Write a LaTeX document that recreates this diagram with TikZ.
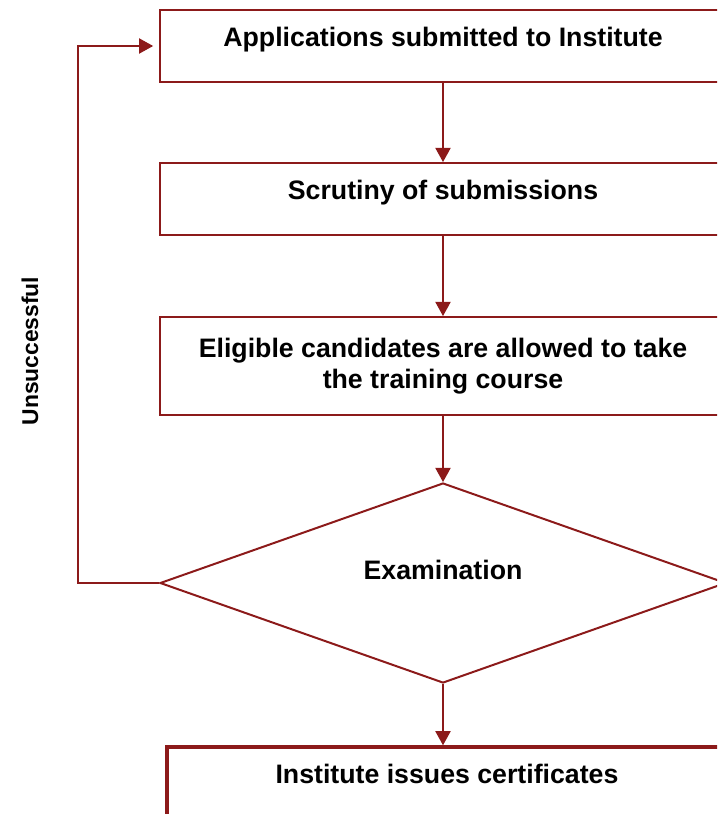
\documentclass[tikz,border=0pt]{standalone}
\usepackage{fontspec}
\setmainfont{Liberation Sans}
\usepackage{tikz}
\usetikzlibrary{arrows.meta,shapes.geometric}
\definecolor{darkred}{RGB}{140,26,26}

\begin{document}
\begin{tikzpicture}[x=0.03cm, y=-0.03cm,
    frame/.style={draw=darkred, line width=1.7pt, minimum width=16.98cm,
        minimum height=2.16cm, inner sep=0pt,
        font=\fontsize{22.8}{27}\selectfont\bfseries},
    box/.style={frame, text height=0.75em, text depth=0.63em},
    link/.style={draw=darkred, line width=1pt,
        -{Triangle[width=13pt,length=12pt]}}]
    \useasboundingbox (0,0) rectangle (717,814);
    \clip (0,0) rectangle (717,814);

    % Boxes
    \node[box] (apply) at (443,46) {Applications submitted to Institute};
    \node[box] (scrutiny) at (443,199) {Scrutiny of submissions};
    \node[frame, minimum height=2.94cm, align=center] (eligible) at (443,366)
        {Eligible candidates are allowed to take\\the training course};

    % Decision
    \node[diamond, draw=darkred, line width=1.7pt, minimum width=16.98cm,
        minimum height=6cm, inner sep=0pt, aspect=2.8,
        font=\fontsize{22.8}{27}\selectfont\bfseries,
        text height=0.75em, text depth=1.37em] (exam) at (443,583) {Examination};

    \node[box, line width=3pt, minimum width=16.8cm] (issue) at (447,783)
        {Institute issues certificates};

    % Flow
    \draw[link] (apply) -- (scrutiny);
    \draw[link] (scrutiny) -- (eligible);
    \draw[link] (eligible) -- (exam);
    \draw[link] (exam.south) -- (exam.south |- issue.north);

    % Failed candidates go back
    \coordinate (corner) at (78,583);
    \draw[link, shorten >=5pt] (exam.west) -- (corner) |- (apply.west);
    \node[rotate=90, font=\fontsize{19.5}{24}\selectfont\bfseries] (fail)
        at (30,351) {Unsuccessful};

\end{tikzpicture}
\end{document}
